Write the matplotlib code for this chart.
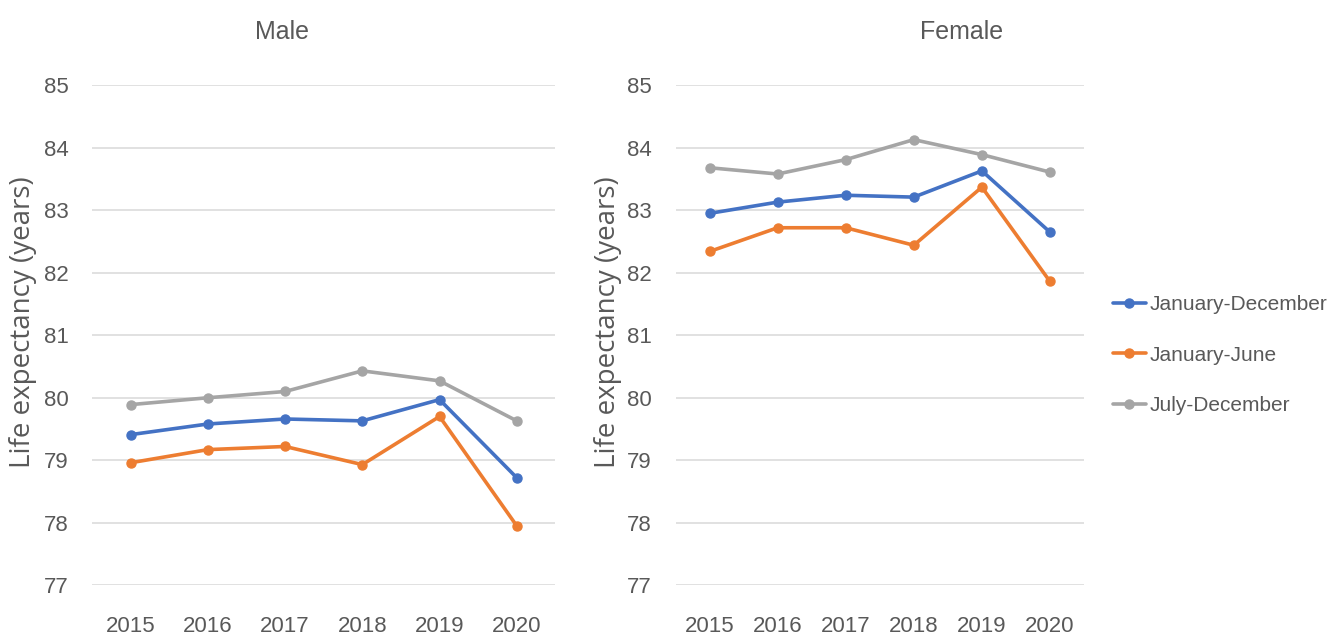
import matplotlib.pyplot as plt

years = ["2015", "2016", "2017", "2018", "2019", "2020"]
series_names = ["January-December", "January-June", "July-December"]

male_jan_dec = [79.41, 79.58, 79.66, 79.63, 79.97, 78.72]
male_jan_jun = [78.96, 79.17, 79.22, 78.93, 79.70, 77.95]
male_jul_dec = [79.89, 80.00, 80.10, 80.43, 80.27, 79.63]

female_jan_dec = [82.95, 83.13, 83.24, 83.21, 83.63, 82.65]
female_jan_jun = [82.34, 82.72, 82.72, 82.44, 83.37, 81.86]
female_jul_dec = [83.68, 83.58, 83.81, 84.13, 83.89, 83.61]

colors = ["#4472C4", "#ED7D31", "#A5A5A5"]
text_color = "#595959"
tick_font = ["Liberation Sans", "DejaVu Sans"]


def draw_panel(ax, title, title_x, label_x, data, show_legend=False):
    x = list(range(len(years)))
    for vals, name, c in zip(data, series_names, colors):
        ax.plot(x, vals, color=c, lw=2.6, marker="o", ms=6.5, label=name,
                solid_capstyle="round", clip_on=False)
    ax.set_xlim(-0.5, len(years) - 0.5)
    ax.set_ylim(77, 85)
    ax.set_yticks(range(77, 86))
    ax.set_xticks(x)
    ax.set_xticklabels(years)
    ax.grid(axis="y", color="#D9D9D9", lw=1.1)
    ax.set_axisbelow(True)
    for s in ax.spines.values():
        s.set_visible(False)
    ax.tick_params(length=0, colors=text_color, labelsize=16)
    ax.tick_params(axis="y", pad=17)
    ax.tick_params(axis="x", pad=22)
    for lbl in ax.get_xticklabels() + ax.get_yticklabels():
        lbl.set_family(tick_font)
    ax.text(title_x, 1.106, title, transform=ax.transAxes, ha="center", va="center",
            color=text_color, fontsize=18, family=tick_font)
    ax.set_ylabel("Life expectancy (years)", color=text_color, fontsize=20,
                  family=["Open Sans", "DejaVu Sans"])
    ax.yaxis.set_label_coords(label_x, 0.526)
    if show_legend:
        leg = ax.legend(loc="center left", bbox_to_anchor=(1.045, 0.46),
                        frameon=False, borderpad=0, handlelength=1.6,
                        handletextpad=0.15, labelspacing=1.5,
                        prop={"family": tick_font, "size": 15})
        for t in leg.get_texts():
            t.set_color(text_color)


fig = plt.figure(figsize=(13.35, 6.41), dpi=100)
ax1 = fig.add_axes([0.069, 0.087, 0.347, 0.780])
ax2 = fig.add_axes([0.506, 0.087, 0.306, 0.780])

draw_panel(ax1, "Male", 0.41, -0.119, [male_jan_dec, male_jan_jun, male_jul_dec])
draw_panel(ax2, "Female", 0.70, -0.13, [female_jan_dec, female_jan_jun, female_jul_dec],
           show_legend=True)

fig.savefig("out.png", dpi=100)
